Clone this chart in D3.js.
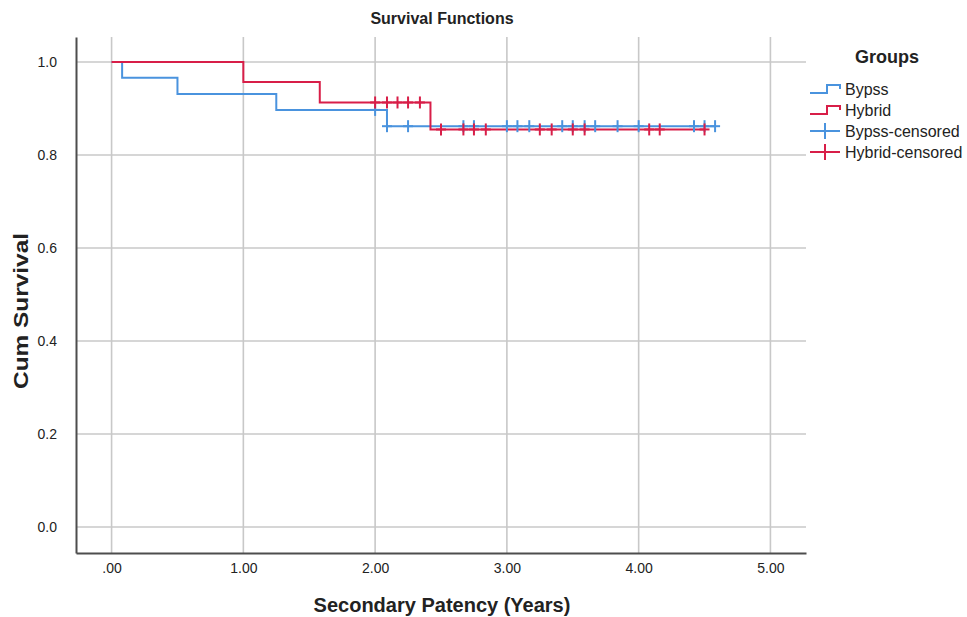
<!DOCTYPE html>
<html><head><meta charset="utf-8">
<script src="https://cdn.jsdelivr.net/npm/d3@7/dist/d3.min.js"></script>
<style>body{margin:0;background:#fff;} text{font-family:"Liberation Sans",Arial,sans-serif;fill:#222;}</style>
</head><body><svg id="c" width="967" height="617"></svg>
<script>
// ---- data ----
const groupNames = ["Bypss", "Hybrid"];
const legendLabels = ["Bypss", "Hybrid", "Bypss-censored", "Hybrid-censored"];
const bypssEventTimes = [0.08, 0.50, 1.25, 2.09];
const bypssSurvival = [0.966, 0.931, 0.897, 0.862];
const bypssEnd = 4.58;
const bypssCensored = [2.00, 2.09, 2.25, 2.67, 2.75, 3.00, 3.08, 3.17, 3.42, 3.50, 3.59, 3.67, 3.84, 4.00, 4.42, 4.50, 4.58];
const hybridEventTimes = [1.00, 1.58, 2.42];
const hybridSurvival = [0.957, 0.913, 0.855];
const hybridEnd = 4.50;
const hybridCensored = [2.00, 2.09, 2.17, 2.25, 2.34, 2.50, 2.67, 2.75, 2.84, 3.25, 3.34, 3.50, 3.59, 4.08, 4.16, 4.50];
const xTicks = [0, 1, 2, 3, 4, 5];
const yTicks = [0, 0.2, 0.4, 0.6, 0.8, 1.0];
const colors = {Bypss: "#4a93de", Hybrid: "#d81e48"};

// ---- setup ----
const svg = d3.select("#c");
const x = d3.scaleLinear().domain([-0.27, 5.27]).range([76, 806]);
const y = d3.scaleLinear().domain([-0.0559, 1.0538]).range([553, 37]);

// gridlines
svg.append("g").selectAll("line").data(yTicks).join("line")
  .attr("x1", x.range()[0]).attr("x2", x.range()[1])
  .attr("y1", d => y(d)).attr("y2", d => y(d))
  .attr("stroke", "#c8c8c8").attr("stroke-width", 1.6);
svg.append("g").selectAll("line").data(xTicks).join("line")
  .attr("y1", y.range()[0]).attr("y2", y.range()[1])
  .attr("x1", d => x(d)).attr("x2", d => x(d))
  .attr("stroke", "#c8c8c8").attr("stroke-width", 1.6);

// axes
const xAxis = svg.append("g").attr("transform", `translate(0,${y.range()[0]})`)
  .call(d3.axisBottom(x).tickValues(xTicks).tickSize(0).tickPadding(10)
    .tickFormat(d => d === 0 ? ".00" : d3.format(".2f")(d)));
const yAxis = svg.append("g").attr("transform", `translate(${x.range()[0]},0)`)
  .call(d3.axisLeft(y).tickValues(yTicks).tickSize(0).tickPadding(19)
    .tickFormat(d3.format(".1f")));
[xAxis, yAxis].forEach(a => {
  a.select(".domain").attr("stroke", "#4d4d4d").attr("stroke-width", 2);
  a.selectAll("text").attr("font-size", 14).attr("font-family", '"Liberation Sans",Arial,sans-serif').attr("fill", "#333");
});

// curves
function stepData(times, surv, end) {
  const pts = [[0, 1]];
  times.forEach((t, i) => pts.push([t, surv[i]]));
  pts.push([end, surv[surv.length - 1]]);
  return pts;
}
function survAt(times, surv, t) {
  let s = 1;
  times.forEach((tt, i) => { if (tt <= t + 1e-9) s = surv[i]; });
  return s;
}
const line = d3.line().x(d => x(d[0])).y(d => y(d[1])).curve(d3.curveStepAfter);
const series = [
  {name: "Bypss", data: stepData(bypssEventTimes, bypssSurvival, bypssEnd), times: bypssEventTimes, surv: bypssSurvival, cens: bypssCensored},
  {name: "Hybrid", data: stepData(hybridEventTimes, hybridSurvival, hybridEnd), times: hybridEventTimes, surv: hybridSurvival, cens: hybridCensored}
];
series.forEach(s => {
  svg.append("path").datum(s.data).attr("d", line)
    .attr("fill", "none").attr("stroke", colors[s.name]).attr("stroke-width", 2);
});
series.forEach(s => {
  const g = svg.append("g").attr("stroke", colors[s.name]).attr("stroke-width", 2);
  g.selectAll("line.v").data(s.cens).join("line").attr("class", "v")
    .attr("x1", d => x(d)).attr("x2", d => x(d))
    .attr("y1", d => y(survAt(s.times, s.surv, d)) - 6)
    .attr("y2", d => y(survAt(s.times, s.surv, d)) + 6);
  g.selectAll("line.h").data(s.cens).join("line").attr("class", "h")
    .attr("x1", d => x(d) - 5).attr("x2", d => x(d) + 5)
    .attr("y1", d => y(survAt(s.times, s.surv, d)))
    .attr("y2", d => y(survAt(s.times, s.surv, d)));
});

// titles
svg.append("text").attr("x", 442).attr("y", 24).attr("text-anchor", "middle")
  .attr("font-size", 16).attr("font-weight", "bold").text("Survival Functions");
svg.append("text").attr("x", 442).attr("y", 612).attr("text-anchor", "middle")
  .attr("font-size", 20).attr("font-weight", "bold").text("Secondary Patency (Years)");
svg.append("text").attr("transform", "translate(28,311) rotate(-90)").attr("text-anchor", "middle")
  .attr("font-size", 21).attr("font-weight", "bold")
  .attr("textLength", 156).attr("lengthAdjust", "spacingAndGlyphs").text("Cum Survival");

// legend
svg.append("text").attr("x", 887).attr("y", 63).attr("text-anchor", "middle")
  .attr("font-size", 18).attr("font-weight", "bold").text("Groups");
const legY = [89, 110, 131, 152];
legendLabels.forEach((lab, i) => {
  const col = colors[groupNames[i % 2]];
  const yy = legY[i];
  if (i < 2) {
    svg.append("path").attr("d", `M810,${yy + 4}H827V${yy - 4}H840V${yy}`)
      .attr("fill", "none").attr("stroke", col).attr("stroke-width", 2);
  } else {
    svg.append("path").attr("d", `M810,${yy}H840M825,${yy - 8}V${yy + 8}`)
      .attr("fill", "none").attr("stroke", col).attr("stroke-width", 2);
  }
  svg.append("text").attr("x", 845).attr("y", yy + 6).attr("font-size", 16).text(lab);
});
</script></body></html>
